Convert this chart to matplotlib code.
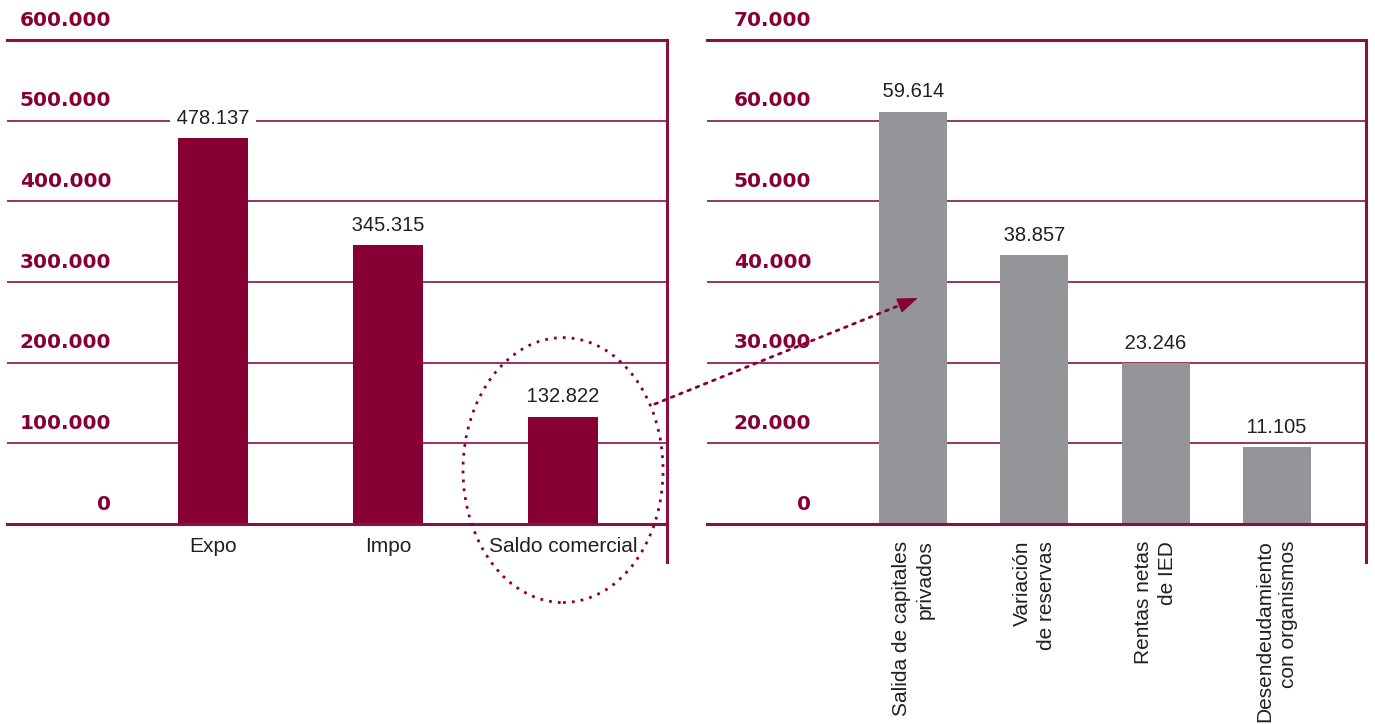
import matplotlib
matplotlib.use("Agg")
import numpy as np
import matplotlib.pyplot as plt
from matplotlib.patches import Ellipse, FancyArrowPatch

# data
left_cats = ["Expo", "Impo", "Saldo comercial"]
left_vals = [478137, 345315, 132822]
left_ticks = [0, 100000, 200000, 300000, 400000, 500000, 600000]
left_tick_labels = left_ticks

right_cats = ["Salida de capitales\nprivados", "Variación\nde reservas",
              "Rentas netas\nde IED", "Desendeudamiento\ncon organismos"]
right_vals = [59614, 38857, 23246, 11105]
right_max = 70000
# the original gridlines are evenly spaced but labelled 0, 20.000, 30.000 ...
right_tick_labels = [0, 20000, 30000, 40000, 50000, 60000, 70000]
right_ticks = list(np.linspace(0, right_max, len(right_tick_labels)))

MAROON = "#860033"
LINE = "#8a1040"
GRAY = "#939598"
TEXT = "#231f20"


def fmt(v):
    return f"{v:,}".replace(",", ".")


def style_axes(ax, ticks, labels):
    for s in ax.spines.values():
        s.set_visible(False)
    ax.set_yticks(ticks)
    ax.set_yticklabels([])
    ax.tick_params(axis="both", length=0)
    ax.set_ylim(0, ticks[-1])
    ax.grid(axis="y", color=LINE, lw=1.2, zorder=0)
    ax.axhline(ticks[-1], color=LINE, lw=2.2, zorder=1, clip_on=False)
    ax.axhline(0, color=LINE, lw=2.2, zorder=4, clip_on=False)
    # right edge line, running below the baseline
    ax.plot([1, 1], [-0.0785, 1], transform=ax.transAxes, color=LINE,
            lw=2.2, clip_on=False, zorder=4)
    for t, lab in zip(ticks, labels):
        ax.annotate(fmt(lab), xy=(0, t), xycoords=ax.get_yaxis_transform(),
                    xytext=(75, 7.5), textcoords="offset points",
                    ha="right", va="bottom", fontsize=14.5,
                    fontweight="bold", color=MAROON, family="DejaVu Sans")


def value_labels(ax, xs, vals):
    # spaces widen the white box so it cuts the gridline like the original
    for x, v in zip(xs, vals):
        ax.annotate(" " + fmt(v) + " ", xy=(x, v), xytext=(0, 7.5),
                    textcoords="offset points", ha="center", va="bottom",
                    fontsize=14.5, color=TEXT, family="Liberation Sans", zorder=5,
                    bbox=dict(boxstyle="square,pad=0.05", fc="white", ec="none"))


fig = plt.figure(figsize=(13.75, 7.24), dpi=100)
ax1 = fig.add_axes([0.00509, 0.2762, 0.48, 0.6685])
ax2 = fig.add_axes([0.5142, 0.2762, 0.4793, 0.6685])

# left panel
x1 = list(range(len(left_cats)))
ax1.bar(x1, left_vals, width=0.4, color=MAROON, zorder=3)
ax1.set_xlim(-1.177, 2.594)
style_axes(ax1, left_ticks, left_tick_labels)
ax1.set_xticks(x1)
ax1.set_xticklabels(left_cats, fontsize=15, color=TEXT, family="Liberation Sans")
ax1.tick_params(axis="x", pad=9)
value_labels(ax1, x1, left_vals)

# right panel
x2 = list(range(len(right_cats)))
ax2.bar(x2, right_vals, width=0.56, color=GRAY, zorder=3)
ax2.set_xlim(-1.698, 3.735)
style_axes(ax2, right_ticks, right_tick_labels)
ax2.set_xticks(x2)
ax2.set_xticklabels(right_cats, fontsize=15, color=TEXT, family="Liberation Sans",
                    rotation=90, va="top", ha="center", multialignment="right",
                    linespacing=1.3)
ax2.tick_params(axis="x", pad=12)
value_labels(ax2, x2, right_vals)

# dotted ellipse around the trade balance bar
ell = Ellipse((2.0, 66900), width=1.143, height=328500, fill=False,
              ec=MAROON, lw=2, linestyle=(0, (1, 2.2)), clip_on=False, zorder=6)
ax1.add_patch(ell)

# dotted arrow to the right panel (line dotted, head solid)
to_fig = fig.transFigure.inverted()
pA = to_fig.transform(ax1.transData.transform((2.51, 147500)))
pB = to_fig.transform(ax2.transData.transform((0.04, 32700)))
pH = pA + (pB - pA) * 0.93
fig.add_artist(FancyArrowPatch(pA, pH, transform=fig.transFigure,
                               arrowstyle="-", color=MAROON, lw=2,
                               linestyle=(0, (1, 2.2)), zorder=7))
fig.add_artist(FancyArrowPatch(pH, pB, transform=fig.transFigure,
                               arrowstyle="-|>,head_length=0.8,head_width=0.3",
                               mutation_scale=16, color=MAROON, lw=1,
                               shrinkA=0, shrinkB=0, zorder=7))

fig.savefig("out.png", dpi=100)
